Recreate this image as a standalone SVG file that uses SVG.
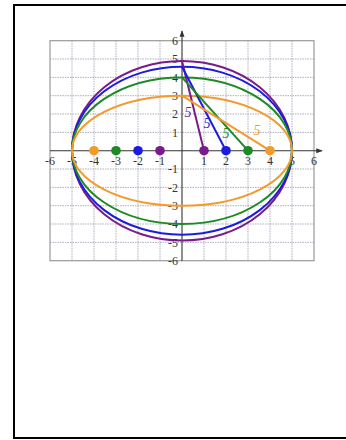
<svg xmlns="http://www.w3.org/2000/svg" width="346" height="440" viewBox="0 0 346 440">
<defs>
<style>
.grid{stroke:#a4a4bc;stroke-width:0.9;stroke-dasharray:1.5 1;fill:none}
.border{stroke:#9a9a9a;stroke-width:1.2;fill:none}
.axis{stroke:#333;stroke-width:1.1;fill:none}
.tick{font-family:"Liberation Serif","Times New Roman",serif;font-size:12px;fill:#333}
.lbl{font-family:"Liberation Serif","Times New Roman",serif;font-size:14px;font-style:italic}
.ell{fill:none;stroke-width:2}
</style>
<marker id="arr" viewBox="0 0 8 8" refX="7" refY="4" markerWidth="6" markerHeight="6" orient="auto"><path d="M0,1 L8,4 L0,7 Z" fill="#333"/></marker>
</defs>
<rect x="14" y="5" width="340" height="433" fill="#fff" stroke="#000" stroke-width="2"/>
<g id="grid">
<path class="grid" d="M72,40.7V260.7M94,40.7V260.7M116,40.7V260.7M138,40.7V260.7M160,40.7V260.7M204,40.7V260.7M226,40.7V260.7M248,40.7V260.7M270,40.7V260.7M292,40.7V260.7M50,59H314M50,77.4H314M50,95.7H314M50,114H314M50,132.4H314M50,169H314M50,187.4H314M50,205.7H314M50,224H314M50,242.4H314"/>
<rect class="border" x="50" y="40.7" width="264" height="220"/>
</g>
<g id="axes">
<line class="axis" x1="50" y1="150.7" x2="322" y2="150.7" marker-end="url(#arr)"/>
<line class="axis" x1="182" y1="261" x2="182" y2="31" marker-end="url(#arr)"/>
</g>
<g id="ticks" class="tick" text-anchor="middle">
<text x="50" y="164.5">-6</text><text x="72" y="164.5">-5</text><text x="94" y="164.5">-4</text><text x="116" y="164.5">-3</text><text x="138" y="164.5">-2</text><text x="160" y="164.5">-1</text><text x="204" y="164.5">1</text><text x="226" y="164.5">2</text><text x="248" y="164.5">3</text><text x="270" y="164.5">4</text><text x="292" y="164.5">5</text><text x="314" y="164.5">6</text>
</g>
<g id="yticks" class="tick" text-anchor="end">
<text x="178" y="45">6</text><text x="178" y="63.3">5</text><text x="178" y="81.7">4</text><text x="178" y="100">3</text><text x="178" y="118.3">2</text><text x="178" y="136.7">1</text><text x="178" y="173.3">-1</text><text x="178" y="191.7">-2</text><text x="178" y="210">-3</text><text x="178" y="228.3">-4</text><text x="178" y="246.7">-5</text><text x="178" y="265">-6</text>
</g>
<g id="ellipse-purple"><ellipse class="ell" cx="182" cy="150.7" rx="110" ry="89.8" stroke="#7a1b8c"/></g>
<g id="ellipse-blue"><ellipse class="ell" cx="182" cy="150.7" rx="110" ry="84" stroke="#1c1ce0"/></g>
<g id="ellipse-green"><ellipse class="ell" cx="182" cy="150.7" rx="110" ry="73.3" stroke="#1d8a24"/></g>
<g id="ellipse-orange"><ellipse class="ell" cx="182" cy="150.7" rx="110" ry="55" stroke="#f39a2c"/></g>
<g id="connectors" stroke-width="2">
<line x1="204" y1="150.7" x2="182" y2="60.9" stroke="#7a1b8c"/>
<line x1="226" y1="150.7" x2="182" y2="66.7" stroke="#1c1ce0"/>
<line x1="248" y1="150.7" x2="182" y2="77.4" stroke="#1d8a24"/>
<line x1="270" y1="150.7" x2="182" y2="95.7" stroke="#f39a2c"/>
</g>
<g id="foci">
<circle cx="94" cy="150.7" r="4.8" fill="#f39a2c"/><circle cx="270" cy="150.7" r="4.8" fill="#f39a2c"/>
<circle cx="116" cy="150.7" r="4.8" fill="#1d8a24"/><circle cx="248" cy="150.7" r="4.8" fill="#1d8a24"/>
<circle cx="138" cy="150.7" r="4.8" fill="#1c1ce0"/><circle cx="226" cy="150.7" r="4.8" fill="#1c1ce0"/>
<circle cx="160" cy="150.7" r="4.8" fill="#7a1b8c"/><circle cx="204" cy="150.7" r="4.8" fill="#7a1b8c"/>
</g>
<g id="labels" class="lbl" text-anchor="middle">
<text x="188" y="116.5" fill="#7a1b8c">5</text>
<text x="207" y="128" fill="#1c1ce0">5</text>
<text x="226" y="137.5" fill="#1d8a24">5</text>
<text x="257" y="134.5" fill="#f39a2c">5</text>
</g>
</svg>
